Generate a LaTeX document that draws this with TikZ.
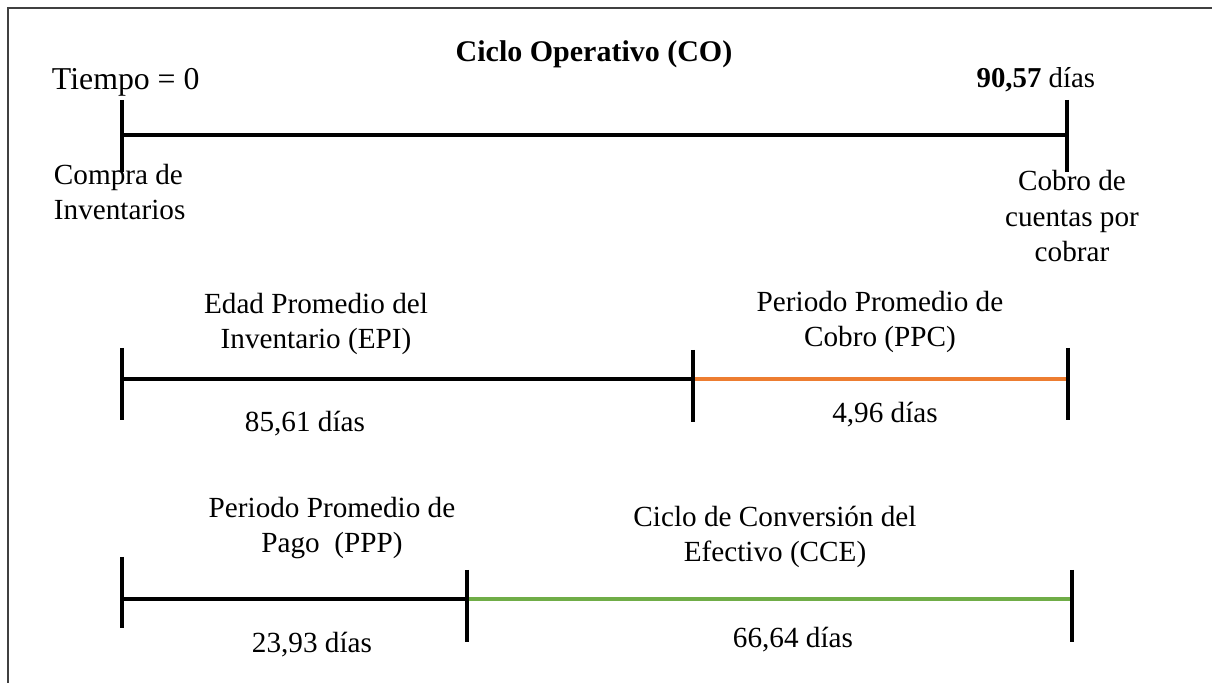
\documentclass[tikz,border=0pt]{standalone}
\usepackage{fontspec}
\setmainfont{Liberation Serif}
\definecolor{frameC}{RGB}{64,64,64}
\definecolor{orangeC}{RGB}{237,125,49}
\definecolor{greenC}{RGB}{112,173,71}
\begin{document}
\begin{tikzpicture}[x=0.5pt,y=-0.5pt,
  tick/.style={line width=2pt,black},
  seg/.style={line width=2pt,black},
  lbl/.style={inner sep=0pt,outer sep=0pt,align=center,anchor=base,
    font=\fontsize{14.6}{17.75}\selectfont},
  frameline/.style={line width=1.1pt,frameC}]
\useasboundingbox (0,0) rectangle (1212,683);
% frame
\coordinate (fbl) at (8,690);
\coordinate (ftl) at (8,8);
\coordinate (ftr) at (1220,8);
\draw[frameline] (fbl) -- (ftl) -- (ftr);

% title and top labels
\node[lbl,font=\bfseries\fontsize{15}{18}\selectfont] (title) at (594,62) {Ciclo Operativo (CO)};
\node[lbl,anchor=base west,font=\fontsize{15.9}{19}\selectfont] (t0) at (52,90) {Tiempo = 0};
\node[lbl,anchor=base east,font=\fontsize{14.4}{18}\selectfont] (tend) at (1095,88) {\textbf{90,57} días};

% row 1
\coordinate (r1lt) at (122,100); \coordinate (r1lb) at (122,172);
\coordinate (r1rt) at (1067,100); \coordinate (r1rb) at (1067,172);
\coordinate (r1l) at (122,135); \coordinate (r1r) at (1067,135);
\draw[seg] (r1l) -- (r1r);
\draw[tick] (r1lt) -- (r1lb);
\draw[tick] (r1rt) -- (r1rb);
\node[lbl,anchor=base west,align=left] (compra) at (54,220) {Compra de\\Inventarios};
\node[lbl] (cobro) at (1072,262) {Cobro de\\cuentas por\\cobrar};

% row 2
\coordinate (r2lt) at (122,348); \coordinate (r2lb) at (122,420);
\coordinate (r2mt) at (693,350); \coordinate (r2mb) at (693,422);
\coordinate (r2rt) at (1068,348); \coordinate (r2rb) at (1068,420);
\coordinate (r2l) at (122,379); \coordinate (r2m) at (693,379); \coordinate (r2r) at (1068,379);
\draw[seg] (r2l) -- (r2m);
\draw[seg,orangeC,line width=1.8pt] (r2m) -- (r2r);
\draw[tick] (r2lt) -- (r2lb);
\draw[tick] (r2mt) -- (r2mb);
\draw[tick] (r2rt) -- (r2rb);
\node[lbl] (epi) at (316,349) {Edad Promedio del\\Inventario (EPI)};
\node[lbl] (epid) at (305,432) {85,61 días};
\node[lbl] (ppc) at (880,347) {Periodo Promedio de\\Cobro (PPC)};
\node[lbl] (ppcd) at (885,423) {4,96 días};

% row 3
\coordinate (r3lt) at (122,557); \coordinate (r3lb) at (122,628);
\coordinate (r3mt) at (467,570); \coordinate (r3mb) at (467,642);
\coordinate (r3rt) at (1072,570); \coordinate (r3rb) at (1072,642);
\coordinate (r3l) at (122,599); \coordinate (r3m) at (467,599); \coordinate (r3r) at (1072,599);
\draw[seg] (r3l) -- (r3m);
\draw[seg,greenC,line width=1.8pt] (r3m) -- (r3r);
\draw[tick] (r3lt) -- (r3lb);
\draw[tick] (r3mt) -- (r3mb);
\draw[tick] (r3rt) -- (r3rb);
\node[lbl] (ppp) at (332,553) {Periodo Promedio de\\Pago\ \ (PPP)};
\node[lbl] (pppd) at (312,653) {23,93 días};
\node[lbl] (cce) at (775,562) {Ciclo de Conversión del\\Efectivo (CCE)};
\node[lbl] (cced) at (793,648) {66,64 días};
\end{tikzpicture}
\end{document}
